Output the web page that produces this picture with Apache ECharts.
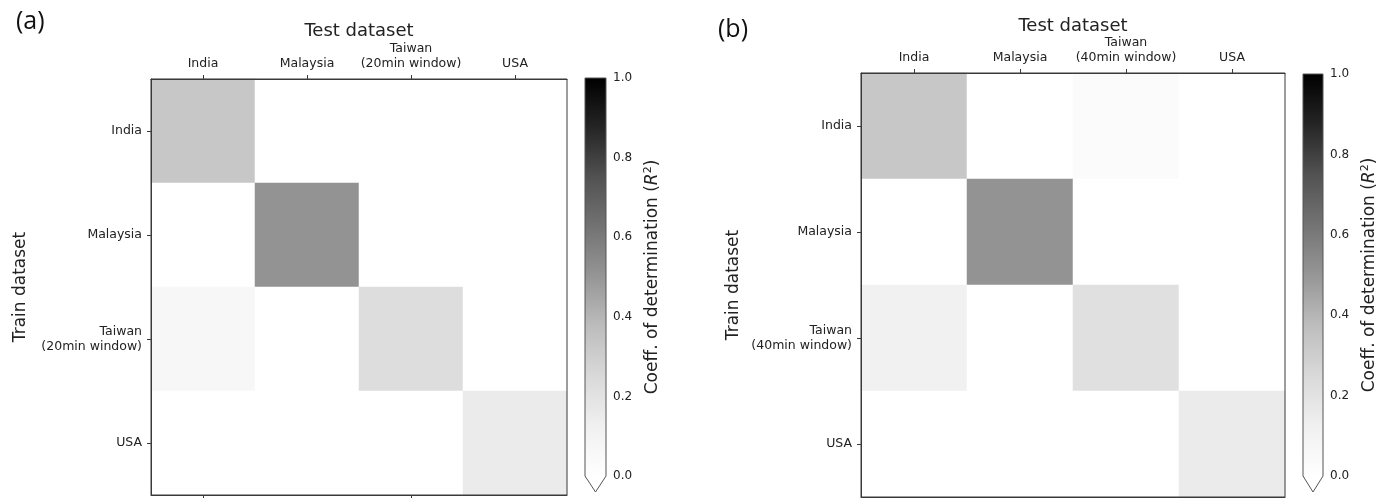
<!DOCTYPE html>
<html>
<head>
<meta charset="utf-8">
<script src="https://cdn.jsdelivr.net/npm/echarts@6/dist/echarts.min.js"></script>
<style>
  html, body { margin: 0; padding: 0; background: #fff; }
  #chart { width: 1395px; height: 498px; }
</style>
</head>
<body>
<div id="chart"></div>
<script>
// datasets (rows = train, cols = test)
var labelsA = ['India', 'Malaysia', 'Taiwan\n(20min window)', 'USA'];
var labelsB = ['India', 'Malaysia', 'Taiwan\n(40min window)', 'USA'];

var r2A = [
  [0.33, 0, 0, 0],
  [0, 0.51, 0, 0],
  [0.07, 0, 0.23, 0],
  [0, 0, 0, 0.15]
];
var r2B = [
  [0.33, 0, 0.03, 0],
  [0, 0.51, 0, 0],
  [0.12, 0, 0.21, 0],
  [0, 0, 0, 0.15]
];

var cbarMin = 0, cbarMax = 1, cbarStep = 0.2;

// matplotlib "Greys"
var greys = ['#ffffff', '#f0f0f0', '#d9d9d9', '#bdbdbd', '#969696', '#737373', '#525252', '#252525', '#000000'];

var FONT = 'DejaVu Sans';
var TXT = '#222';

function toCells(m) {
  var out = [];
  for (var i = 0; i < m.length; i++) {
    for (var j = 0; j < m[i].length; j++) {
      out.push([j, i, m[i][j]]);
    }
  }
  return out;
}

function heatX(grid, labels, gap) {
  return [{
    type: 'category', gridIndex: grid, data: labels, position: 'top', z: 5,
    axisLine: { show: true, lineStyle: { color: '#3a3a3a', width: 1 } },
    axisTick: { show: true, alignWithLabel: true, length: 4, lineStyle: { color: '#3a3a3a' } },
    axisLabel: { interval: 0, fontSize: 12.5, lineHeight: 15, margin: 8, color: TXT, fontFamily: FONT },
    splitLine: { show: false },
    name: 'Test dataset', nameLocation: 'middle', nameGap: gap, nameMoveOverlap: false,
    nameTextStyle: { fontSize: 18, color: TXT, fontFamily: FONT }
  }, {
    type: 'category', gridIndex: grid, data: labels, position: 'bottom', z: 5,
    axisLine: { show: true, lineStyle: { color: '#3a3a3a', width: 1 } },
    axisTick: { show: true, alignWithLabel: true, length: 4, lineStyle: { color: '#3a3a3a' } },
    axisLabel: { show: false },
    splitLine: { show: false }
  }];
}

function heatY(grid, labels, gap) {
  return {
    type: 'category', gridIndex: grid, data: labels, inverse: true, z: 5,
    axisLine: { show: true, lineStyle: { color: '#3a3a3a', width: 1 } },
    axisTick: { show: true, alignWithLabel: true, length: 4, lineStyle: { color: '#3a3a3a' } },
    axisLabel: { interval: 0, fontSize: 12.5, lineHeight: 15, margin: 9, color: TXT, fontFamily: FONT },
    splitLine: { show: false },
    name: 'Train dataset', nameLocation: 'middle', nameGap: gap, nameMoveOverlap: false,
    nameTextStyle: { fontSize: 17, color: TXT, fontFamily: FONT }
  };
}

function cbarY(grid) {
  return {
    type: 'value', gridIndex: grid, min: cbarMin, max: cbarMax, interval: cbarStep, position: 'right',
    axisLine: { show: false },
    axisTick: { show: true, length: 4, lineStyle: { color: '#333' } },
    axisLabel: { fontSize: 12, margin: 7, color: TXT, fontFamily: FONT,
      formatter: function (v) { return v.toFixed(1); } },
    splitLine: { show: false },
    name: '{n|Coeff. of determination (}{r|R}{s|2}{n|)}',
    nameLocation: 'middle', nameGap: 37, nameMoveOverlap: false,
    nameTextStyle: {
      fontSize: 17, color: TXT, fontFamily: FONT,
      rich: {
        n: { fontSize: 17, color: TXT, fontFamily: FONT },
        r: { fontSize: 17, color: TXT, fontFamily: FONT, fontStyle: 'italic' },
        s: { fontSize: 11, color: TXT, fontFamily: FONT, padding: [0, 0, 8, 0] }
      }
    }
  };
}

function cbarX(grid) {
  return { type: 'value', gridIndex: grid, min: 0, max: 1, show: false };
}

var gradStops = greys.slice().reverse().map(function (c, i) {
  return { offset: i / (greys.length - 1), color: c };
});

function renderBar(params, api) {
  var lo = api.coord([0, cbarMin]);
  var hi = api.coord([1, cbarMax]);
  var x0 = lo[0], x1 = hi[0], yTop = hi[1], yBot = lo[1];
  var xm = (x0 + x1) / 2, tip = yBot + 16;
  return {
    type: 'group',
    children: [
      { type: 'rect', shape: { x: x0, y: yTop, width: x1 - x0, height: yBot - yTop },
        style: { fill: new echarts.graphic.LinearGradient(0, 0, 0, 1, gradStops) } },
      { type: 'polygon', shape: { points: [[x0, yBot], [x1, yBot], [xm, tip]] },
        style: { fill: '#ffffff' } },
      { type: 'polygon', shape: { points: [[x0, yTop], [x1, yTop], [x1, yBot], [xm, tip], [x0, yBot]] },
        style: { fill: null, stroke: '#555', lineWidth: 1 } }
    ]
  };
}

var chart = echarts.init(document.getElementById('chart'));

chart.setOption({
  backgroundColor: '#ffffff',
  animation: false,
  title: [
    { text: '(a)', left: 11, top: 4, textStyle: { fontSize: 25, fontWeight: 'normal', color: '#111', fontFamily: 'Open Sans' } },
    { text: '(b)', left: 713, top: 12, textStyle: { fontSize: 25, fontWeight: 'normal', color: '#111', fontFamily: 'Open Sans' } }
  ],
  grid: [
    { left: 151, top: 79, width: 416, height: 416, show: true, z: 5, borderColor: '#3a3a3a', borderWidth: 1, backgroundColor: 'transparent' },
    { left: 861, top: 73, width: 424, height: 424, show: true, z: 5, borderColor: '#3a3a3a', borderWidth: 1, backgroundColor: 'transparent' },
    { left: 585, top: 78, width: 21, height: 398 },
    { left: 1303, top: 74, width: 20, height: 402 }
  ],
  xAxis: heatX(0, labelsA, 39).concat(heatX(1, labelsB, 38), [cbarX(2), cbarX(3)]),
  yAxis: [heatY(0, labelsA, 122), heatY(1, labelsB, 119), cbarY(2), cbarY(3)],
  visualMap: {
    type: 'continuous', show: false, min: cbarMin, max: cbarMax,
    seriesIndex: [0, 1], inRange: { color: greys }
  },
  series: [
    { type: 'heatmap', xAxisIndex: 0, yAxisIndex: 0, data: toCells(r2A), z: 1 },
    { type: 'heatmap', xAxisIndex: 2, yAxisIndex: 1, data: toCells(r2B), z: 1 },
    { type: 'custom', xAxisIndex: 4, yAxisIndex: 2, data: [[0, 0]], renderItem: renderBar, silent: true },
    { type: 'custom', xAxisIndex: 5, yAxisIndex: 3, data: [[0, 0]], renderItem: renderBar, silent: true }
  ]
});
</script>
</body>
</html>
